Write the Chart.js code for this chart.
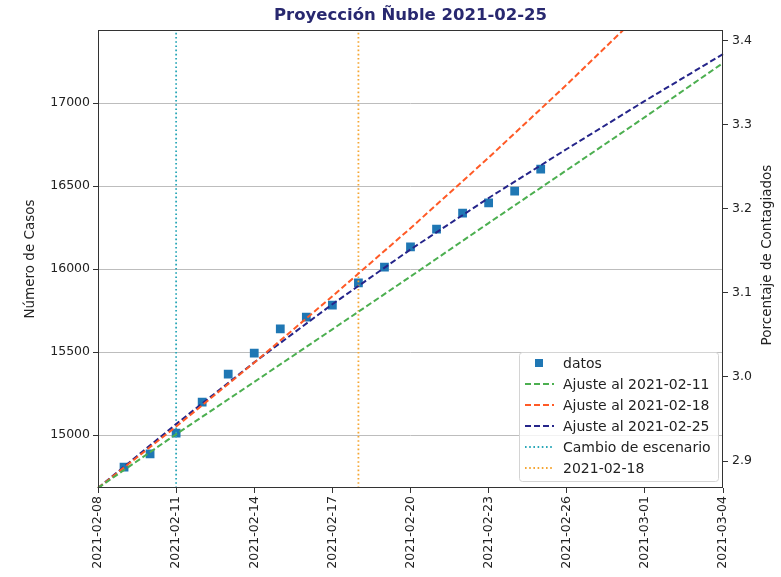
<!DOCTYPE html>
<html>
<head>
<meta charset="utf-8">
<script src="https://cdn.jsdelivr.net/npm/chart.js@4.4.1/dist/chart.umd.min.js"></script>
<style>
  html, body { margin: 0; padding: 0; background: #fff; }
</style>
</head>
<body>
<canvas id="proyeccion" width="781" height="577"></canvas>
<script>
// every day on the x axis (category scale, first and last at the plot edges)
const dias = [
  '2021-02-08', '2021-02-09', '2021-02-10', '2021-02-11', '2021-02-12', '2021-02-13', '2021-02-14',
  '2021-02-15', '2021-02-16', '2021-02-17', '2021-02-18', '2021-02-19', '2021-02-20', '2021-02-21',
  '2021-02-22', '2021-02-23', '2021-02-24', '2021-02-25', '2021-02-26', '2021-02-27', '2021-02-28',
  '2021-03-01', '2021-03-02', '2021-03-03', '2021-03-04'
];
const tickDias = ['2021-02-08', '2021-02-11', '2021-02-14', '2021-02-17', '2021-02-20',
  '2021-02-23', '2021-02-26', '2021-03-01', '2021-03-04'];

// datos observados
const fechasDatos = dias.slice(1, 18);
const casos = [14807, 14886, 15012, 15199, 15367, 15494, 15639, 15711, 15783,
  15916, 16012, 16133, 16241, 16337, 16398, 16470, 16602];

// curvas de ajuste, leidas cada 3 dias
const fechasAjuste = tickDias;
const ajuste0211 = [14681, 15005, 15320, 15637, 15955, 16277, 16596, 16915, 17241];
const ajuste0218 = [14681, 15051, 15436, 15836, 16246, 16671, 17111, 17566, 18036];
const ajuste0225 = [14681, 15066, 15438, 15788, 16118, 16428, 16723, 17013, 17295];

const cambioEscenario = '2021-02-11';
const corte = '2021-02-18';

const casosTicks = [15000, 15500, 16000, 16500, 17000];
const casosMin = 14681, casosMax = 17440;
const pctTicks = [2.9, 3.0, 3.1, 3.2, 3.3, 3.4];
const pctMin = 2.868, pctMax = 3.4125;

const pares = (xs, ys) => xs.map((x, i) => ({ x: x, y: ys[i] }));
const vertical = x => [{ x: x, y: casosMin }, { x: x, y: casosMax }];

Chart.defaults.font.family = 'DejaVu Sans';
Chart.defaults.color = '#222';

// title, axis titles, frame and legend drawn like the matplotlib figure
const decor = {
  id: 'decor',
  afterDraw(chart) {
    const { ctx, chartArea: a } = chart;
    ctx.save();
    ctx.strokeStyle = '#333';
    ctx.lineWidth = 1;
    ctx.setLineDash([]);
    ctx.strokeRect(a.left + 0.5, a.top + 0.5, a.right - a.left - 1, a.bottom - a.top - 1);

    ctx.fillStyle = '#28286f';
    ctx.font = 'bold 16.5px "DejaVu Sans"';
    ctx.textAlign = 'center';
    ctx.textBaseline = 'middle';
    ctx.fillText('Proyección Ñuble 2021-02-25', (a.left + a.right) / 2, 16);

    ctx.fillStyle = '#222';
    ctx.font = '13.5px "DejaVu Sans"';
    const midY = (a.top + a.bottom) / 2;
    ctx.save(); ctx.translate(30, midY); ctx.rotate(-Math.PI / 2);
    ctx.fillText('Número de Casos', 0, 0); ctx.restore();
    ctx.save(); ctx.translate(767, midY - 4); ctx.rotate(-Math.PI / 2);
    ctx.fillText('Porcentaje de Contagiados', 0, 0); ctx.restore();

    // legend
    const bx = 519, by = 352, bw = 199, bh = 129;
    ctx.fillStyle = 'rgba(255,255,255,0.8)';
    ctx.strokeStyle = '#d4d4d4';
    ctx.beginPath();
    ctx.roundRect(bx + 0.5, by + 0.5, bw, bh, 3);
    ctx.fill(); ctx.stroke();
    ctx.font = '14px "DejaVu Sans"';
    ctx.textAlign = 'left';
    chart.data.datasets.forEach((ds, i) => {
      const y = by + 11 + i * 21;
      if (ds.showLine === false) {
        ctx.fillStyle = ds.backgroundColor;
        ctx.fillRect(535, y - 4, 8, 8);
      } else {
        ctx.strokeStyle = ds.borderColor;
        ctx.lineWidth = ds.borderWidth;
        ctx.setLineDash(ds.borderDash);
        ctx.beginPath(); ctx.moveTo(525, y); ctx.lineTo(554, y); ctx.stroke();
        ctx.setLineDash([]);
      }
      ctx.fillStyle = '#222';
      ctx.fillText(ds.label, 563, y + 1);
    });
    ctx.restore();
  }
};

const linea = (label, data, color, dash, width) => ({
  label: label, data: data, borderColor: color, backgroundColor: color,
  borderDash: dash, borderWidth: width, pointRadius: 0, fill: false, tension: 0, order: 1
});

new Chart(document.getElementById('proyeccion').getContext('2d'), {
  type: 'line',
  data: {
    labels: dias,
    datasets: [
      {
        label: 'datos', data: pares(fechasDatos, casos), showLine: false,
        pointStyle: 'rect', pointRadius: 6.2, pointBorderWidth: 0,
        backgroundColor: '#1f77b4', borderColor: '#1f77b4', order: 5
      },
      linea('Ajuste al 2021-02-11', pares(fechasAjuste, ajuste0211), '#4caf50', [6, 3], 2),
      linea('Ajuste al 2021-02-18', pares(fechasAjuste, ajuste0218), '#ff5a26', [6, 3], 2),
      linea('Ajuste al 2021-02-25', pares(fechasAjuste, ajuste0225), '#25258a', [6, 3], 2),
      linea('Cambio de escenario', vertical(cambioEscenario), '#2aa7b8', [1.6, 2.6], 1.8),
      linea('2021-02-18', vertical(corte), '#f5a633', [1.6, 2.6], 1.8)
    ]
  },
  options: {
    responsive: false,
    animation: false,
    layout: { padding: { top: 30, left: 0, right: 0, bottom: 0 } },
    plugins: { legend: { display: false }, title: { display: false }, tooltip: { enabled: false } },
    scales: {
      x: {
        type: 'category',
        offset: false,
        grid: {
          drawOnChartArea: false, tickLength: 5,
          tickColor: c => (tickDias.includes(dias[c.index]) ? '#333' : 'rgba(0,0,0,0)')
        },
        border: { display: false },
        ticks: {
          autoSkip: false, minRotation: 90, maxRotation: 90, padding: 3,
          font: { size: 12.5 },
          callback: function (v, i) { return tickDias.includes(dias[i]) ? dias[i] : ''; }
        },
        afterFit: s => { s.height = 89; }
      },
      y: {
        position: 'left',
        min: casosMin, max: casosMax,
        grid: { color: '#bdbdbd', lineWidth: 1, tickColor: '#333', tickLength: 5 },
        border: { display: false },
        ticks: { padding: 3, font: { size: 12.5 }, callback: v => String(v) },
        afterBuildTicks: s => { s.ticks = casosTicks.map(v => ({ value: v })); },
        afterFit: s => { s.width = 98; }
      },
      y1: {
        position: 'right',
        min: pctMin, max: pctMax,
        grid: { drawOnChartArea: false, tickColor: '#333', tickLength: 5 },
        border: { display: false },
        ticks: { padding: 4, font: { size: 12.5 }, callback: v => v.toFixed(1) },
        afterBuildTicks: s => { s.ticks = pctTicks.map(v => ({ value: v })); },
        afterFit: s => { s.width = 58; }
      }
    }
  },
  plugins: [decor]
});
</script>
</body>
</html>
